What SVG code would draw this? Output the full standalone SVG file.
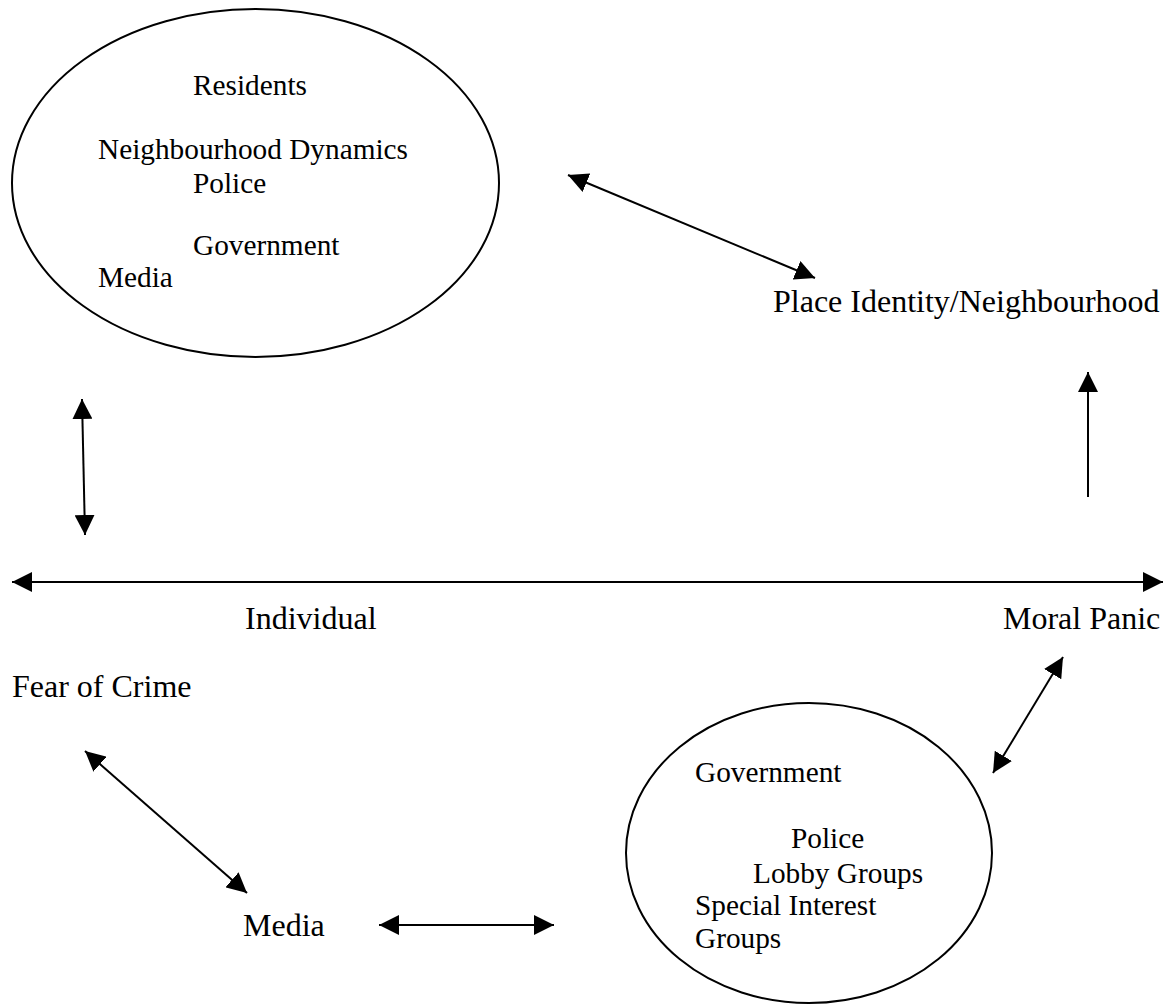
<svg xmlns="http://www.w3.org/2000/svg" width="1174" height="1005" viewBox="0 0 1174 1005">
<style>
  .shape { fill: none; stroke: #000; stroke-width: 2; }
  .in { font-family: "Liberation Serif", "Times New Roman", serif; font-size: 29.3px; fill: #000; }
  .out { font-family: "Liberation Serif", "Times New Roman", serif; font-size: 32px; fill: #000; }
  .conn line { stroke: #000; stroke-width: 2; }
</style>
<defs>
  <marker id="ah" markerUnits="userSpaceOnUse" markerWidth="20" markerHeight="20" refX="20" refY="10" orient="auto-start-reverse">
    <path d="M0,0 L20,10 L0,20 z" fill="#000"/>
  </marker>
</defs>
<rect width="1174" height="1005" fill="#fff"/>
<g id="actors-top">
  <ellipse class="shape" cx="255.5" cy="183" rx="243.5" ry="174"/>
  <text class="in" x="193" y="95">Residents</text>
  <text class="in" x="98" y="159">Neighbourhood Dynamics</text>
  <text class="in" x="193" y="193">Police</text>
  <text class="in" x="193" y="255">Government</text>
  <text class="in" x="98" y="287">Media</text>
</g>
<g id="place-identity">
  <text class="out" x="773" y="312">Place Identity/Neighbourhood</text>
</g>
<g id="individual">
  <text class="out" x="245" y="629">Individual</text>
</g>
<g id="moral-panic">
  <text class="out" x="1003" y="629">Moral Panic</text>
</g>
<g id="fear-of-crime">
  <text class="out" x="12" y="697">Fear of Crime</text>
</g>
<g id="media">
  <text class="out" x="243" y="936">Media</text>
</g>
<g id="actors-bottom">
  <ellipse class="shape" cx="809" cy="853" rx="183" ry="150"/>
  <text class="in" x="695" y="782">Government</text>
  <text class="in" x="791" y="848">Police</text>
  <text class="in" x="753" y="883">Lobby Groups</text>
  <text class="in" x="695" y="915">Special Interest</text>
  <text class="in" x="695" y="948">Groups</text>
</g>
<g id="connectors" class="conn">
  <line x1="568" y1="175" x2="815" y2="278" marker-start="url(#ah)" marker-end="url(#ah)"/>
  <line x1="82" y1="399" x2="85" y2="535" marker-start="url(#ah)" marker-end="url(#ah)"/>
  <line x1="1088" y1="497" x2="1088" y2="372" marker-end="url(#ah)"/>
  <line x1="12" y1="582" x2="1163" y2="582" marker-start="url(#ah)" marker-end="url(#ah)"/>
  <line x1="1063" y1="657" x2="993" y2="773" marker-start="url(#ah)" marker-end="url(#ah)"/>
  <line x1="85" y1="751" x2="247" y2="893" marker-start="url(#ah)" marker-end="url(#ah)"/>
  <line x1="379" y1="925" x2="554" y2="925" marker-start="url(#ah)" marker-end="url(#ah)"/>
</g>
</svg>
